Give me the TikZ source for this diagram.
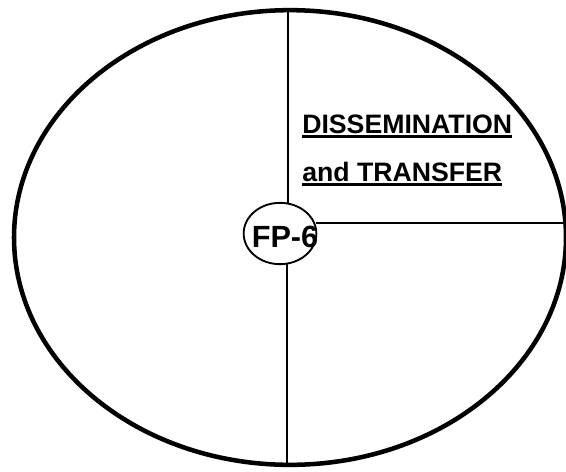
\documentclass[tikz,border=0pt]{standalone}
\usepackage{fontspec}
\setmainfont{Liberation Sans}
\usetikzlibrary{shapes.geometric}
% underline drawn as a thick rule below the word
\newcommand{\ulword}[1]{\setbox0\hbox{#1}\rlap{\rule[-3.6pt]{\wd0}{2pt}}\box0}

\begin{document}
\begin{tikzpicture}[x=0.75pt,y=-0.75pt,
  rim/.style={draw,ellipse,line width=3.4pt,minimum width=414pt,minimum height=341pt,
              inner sep=0pt,outer sep=0pt},
  hub/.style={draw,ellipse,line width=1.4pt,minimum width=54.5pt,minimum height=46pt,
              inner sep=0pt,outer sep=0pt},
  spoke/.style={line width=1.2pt},
  caption/.style={anchor=base west,inner sep=0pt,font=\bfseries\fontsize{20}{24}\selectfont}]
  \clip (0,0) rectangle (566,471);
  \useasboundingbox (0,0) rectangle (566,471);
  % ---- outer ring and hub
  \node[rim] (ring) at (290,237.5) {};
  \node[hub] (fp) at (280,233.5) {};
  \node[anchor=base,inner sep=0pt,font=\bfseries\fontsize{23}{26}\selectfont] (fptext) at (285,247) {FP-6};
  % ---- spokes out to the ring
  \coordinate (up)   at (288,12);
  \coordinate (down) at (287,464);
  \coordinate (east) at (566,223);
  \draw[spoke] (up) -- (up |- fp.north);
  \draw[spoke] (down) -- (down |- fp.south);
  \draw[spoke] (east) -- (east -| fp.east);
  % ---- quadrant title
  \node[caption] (dis) at (302,133) {\ulword{DISSEMINATION}};
  \node[caption] (tra) at (302,181) {\ulword{and TRANSFER}};
\end{tikzpicture}
\end{document}
